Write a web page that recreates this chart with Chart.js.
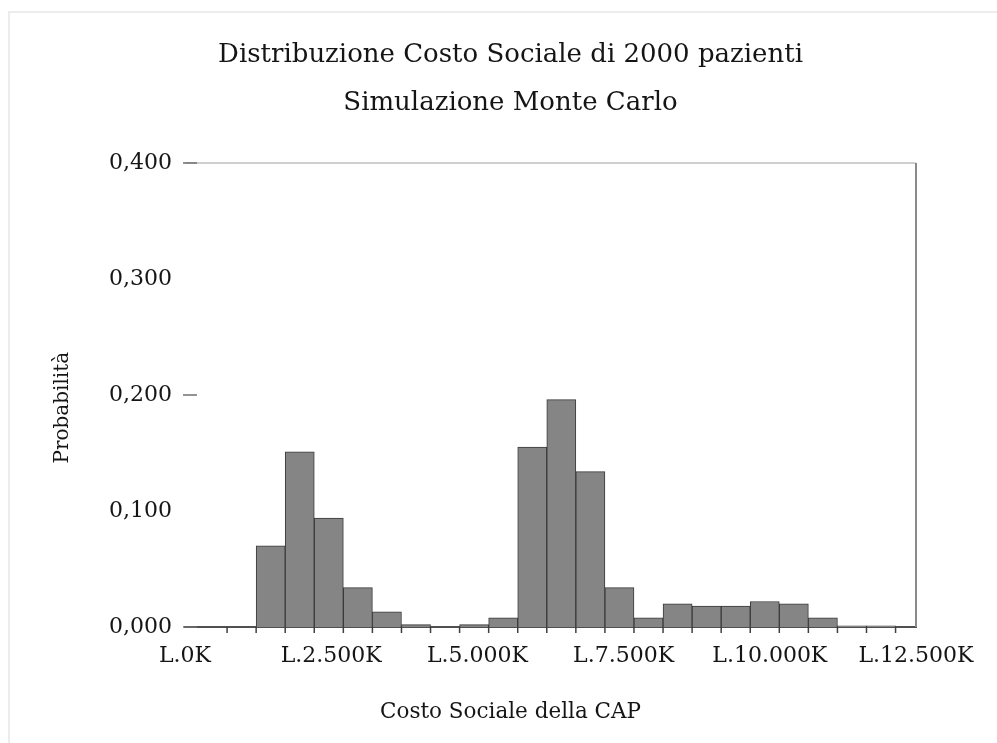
<!DOCTYPE html>
<html><head><meta charset="utf-8">
<script src="https://cdn.jsdelivr.net/npm/chart.js@4"></script>
<style>
html,body{margin:0;padding:0;background:#fff;}
#wrap{position:relative;width:997px;height:743px;overflow:hidden;background:#fff;}
#frame{position:absolute;left:8px;top:11px;width:1100px;height:900px;border:2px solid #ececec;box-sizing:border-box;}
canvas{position:absolute;left:0;top:0;}
</style></head><body>
<div id="wrap"><div id="frame"></div><canvas id="c" width="997" height="743"></canvas></div>
<script>
const titleLines = ['Distribuzione Costo Sociale di 2000 pazienti', 'Simulazione Monte Carlo'];
const xTitle = 'Costo Sociale della CAP';
const yTitle = 'Probabilità    ';
const binCenters = [1465, 1962, 2459, 2956, 3453, 3950, 4447, 4944, 5441, 5938, 6435,
                    6932, 7429, 7926, 8423, 8920, 9417, 9914, 10411, 10908, 11405, 11902];
const probabilities = [0.070, 0.151, 0.094, 0.034, 0.013, 0.002, 0.000, 0.002, 0.008, 0.155, 0.196,
                       0.134, 0.034, 0.008, 0.020, 0.018, 0.018, 0.022, 0.020, 0.008, 0.001, 0.001];
const binWidth = 497;
const xTickValues = [0, 2500, 5000, 7500, 10000, 12500];
const xTickLabels = ['L.0K', 'L.2.500K', 'L.5.000K', 'L.7.500K', 'L.10.000K', 'L.12.500K'];
const yTickValues = [0, 0.1, 0.2, 0.3, 0.4];
const yTickLabels = ['0,000', '0,100', '0,200', '0,300', '0,400'];

const FONT = "'DejaVu Serif', 'Liberation Serif', serif";
const TXT = '#151515';

const framePlugin = {
  id: 'frame',
  afterDatasetsDraw(chart) {
    const {ctx, chartArea: {left, right, top, bottom}, scales: {x, y}} = chart;
    const line = (x1, y1, x2, y2) => { ctx.beginPath(); ctx.moveTo(x1, y1); ctx.lineTo(x2, y2); ctx.stroke(); };
    ctx.save();
    ctx.lineWidth = 2;
    ctx.strokeStyle = '#cfcfcf';
    line(left, top, right, top);
    ctx.strokeStyle = '#8a8a8a';
    line(right, top, right, bottom);
    ctx.strokeStyle = '#707070';
    ctx.lineWidth = 1.5;
    yTickValues.forEach((v, i) => {
      if (i % 2 === 0) { const py = y.getPixelForValue(v); line(left - 2, py, left + 12, py); }
    });
    ctx.strokeStyle = '#404040';
    ctx.lineWidth = 1.5;
    const edges = [binCenters[0] - 1.5 * binWidth];
    binCenters.forEach(c => edges.push(c - binWidth / 2));
    edges.push(binCenters[binCenters.length - 1] + binWidth / 2);
    edges.forEach(e => { const px = x.getPixelForValue(e); line(px, bottom, px, bottom + 6); });
    ctx.restore();
  }
};

new Chart(document.getElementById('c'), {
  type: 'bar',
  data: {
    datasets: [{
      data: binCenters.map((c, i) => ({x: c, y: probabilities[i]})),
      backgroundColor: '#858585',
      borderColor: '#3a3a3a',
      borderWidth: 1,
      barPercentage: 1,
      categoryPercentage: 1
    }]
  },
  options: {
    responsive: false,
    animation: false,
    devicePixelRatio: 1,
    layout: {padding: {left: 24, right: 0, top: 0, bottom: 0}},
    plugins: {
      legend: {display: false},
      tooltip: {enabled: false},
      title: {
        display: true, text: titleLines, color: TXT,
        font: {family: FONT, size: 26, weight: 'normal', lineHeight: 1.846},
        padding: {top: 31, bottom: 36}
      },
      subtitle: {
        display: true, text: xTitle, position: 'bottom', color: TXT,
        font: {family: FONT, size: 21.5, weight: 'normal', lineHeight: 1.2},
        padding: {top: 4, bottom: 18}
      }
    },
    scales: {
      x: {
        type: 'linear', min: 0, max: 12500, offset: false,
        grid: {display: false, drawTicks: false, offset: false},
        border: {display: true, color: '#505050', width: 2},
        afterBuildTicks: s => { s.ticks = xTickValues.map(v => ({value: v})); },
        afterFit: s => { s.height = 68.2; },
        ticks: {
          color: TXT, padding: 16, maxRotation: 0, autoSkip: false,
          font: {family: FONT, size: 22},
          callback: (v) => xTickLabels[xTickValues.indexOf(v)]
        }
      },
      y: {
        type: 'linear', min: 0, max: 0.4,
        grid: {display: false, drawTicks: false},
        border: {display: false},
        afterBuildTicks: s => { s.ticks = yTickValues.map(v => ({value: v})); },
        afterFit: s => { s.width = 161; },
        ticks: {
          color: TXT, padding: 13,
          font: {family: FONT, size: 22},
          callback: (v) => yTickLabels[yTickValues.indexOf(v)]
        },
        title: {
          display: true, text: yTitle, color: TXT,
          font: {family: FONT, size: 20}, padding: 27
        }
      },
      y2: {
        type: 'linear', position: 'right', min: 0, max: 1,
        grid: {display: false, drawTicks: false},
        border: {display: false},
        ticks: {display: false},
        afterFit: s => { s.width = 81; }
      }
    }
  },
  plugins: [framePlugin]
});
</script>
</body></html>
